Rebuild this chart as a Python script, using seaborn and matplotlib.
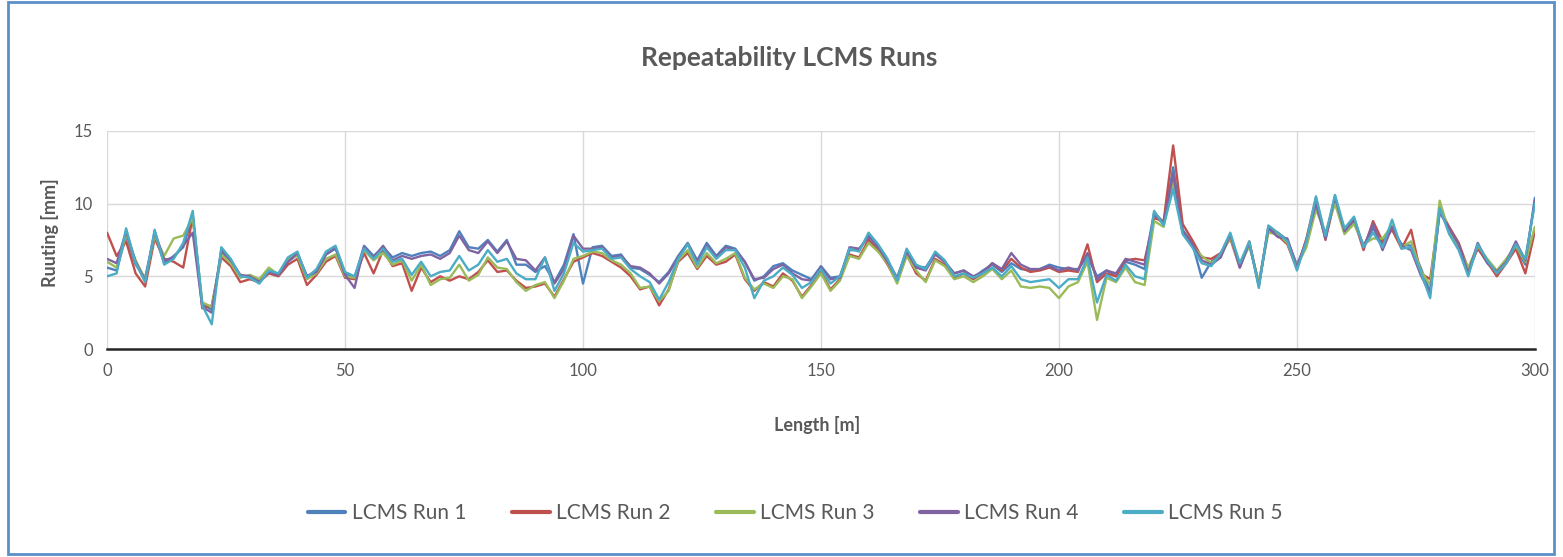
import numpy as np
import pandas as pd
import matplotlib
matplotlib.use("Agg")
import matplotlib.pyplot as plt
import seaborn as sns
from matplotlib.patches import Rectangle
from matplotlib.ticker import MultipleLocator

# chainage every 2 m along the 300 m section
length_m = np.arange(0, 301, 2)

run1 = [5.6, 5.4, 7.8, 5.8, 4.9, 7.9, 5.9, 6.4, 7.0, 9.2,
        3.1, 2.7, 6.7, 6.0, 5.0, 5.0, 4.7, 5.3, 5.2, 6.0,
        6.5, 5.0, 5.4, 6.5, 6.9, 5.2, 4.9, 7.1, 6.4, 7.0,
        6.3, 6.6, 6.4, 6.6, 6.7, 6.4, 6.8, 8.1, 7.0, 6.9,
        7.5, 6.7, 7.5, 5.8, 5.8, 5.3, 5.7, 4.6, 5.8, 7.9,
        4.5, 7.0, 7.1, 6.4, 6.5, 5.6, 5.5, 5.1, 4.6, 5.3,
        6.4, 7.3, 6.1, 7.3, 6.4, 7.1, 6.9, 6.0, 4.7, 5.0,
        5.7, 5.9, 5.4, 5.1, 4.8, 5.7, 4.9, 5.0, 6.8, 6.8,
        7.8, 7.1, 6.1, 4.9, 6.8, 5.7, 5.6, 6.6, 6.0, 5.2,
        5.4, 4.9, 5.4, 5.8, 5.3, 5.9, 5.5, 5.4, 5.5, 5.8,
        5.6, 5.5, 5.5, 6.4, 5.0, 5.4, 5.0, 6.0, 5.8, 5.5,
        9.2, 8.6, 12.5, 8.2, 7.3, 4.9, 6.0, 6.5, 7.8, 5.8,
        7.2, 4.5, 8.2, 8.0, 7.5, 5.8, 7.3, 10.2, 7.7, 10.4,
        8.0, 8.7, 7.1, 8.3, 7.2, 8.3, 7.2, 7.1, 5.6, 3.9,
        9.5, 8.2, 7.1, 5.2, 7.0, 5.9, 5.2, 6.1, 7.0, 5.8, 10.4]

run2 = [8.0, 6.4, 7.4, 5.2, 4.3, 7.6, 6.2, 6.0, 5.6, 9.1,
        2.8, 3.0, 6.3, 5.7, 4.6, 4.8, 4.6, 5.2, 5.0, 5.8,
        6.2, 4.4, 5.1, 6.0, 6.4, 4.9, 4.8, 6.6, 5.2, 6.8,
        5.7, 5.9, 4.0, 5.6, 4.6, 5.0, 4.7, 5.0, 4.8, 5.3,
        6.1, 5.3, 5.4, 4.7, 4.2, 4.3, 4.5, 3.6, 4.8, 6.0,
        6.3, 6.6, 6.4, 6.0, 5.6, 5.0, 4.1, 4.3, 3.0, 4.1,
        6.0, 6.6, 5.5, 6.4, 5.8, 6.0, 6.5, 4.8, 4.0, 4.6,
        4.3, 5.2, 4.7, 3.6, 4.4, 5.3, 4.1, 4.8, 6.5, 6.3,
        7.5, 6.8, 5.8, 4.6, 6.5, 5.2, 4.7, 6.2, 5.8, 4.9,
        5.2, 4.8, 5.2, 5.9, 5.4, 6.2, 5.6, 5.3, 5.4, 5.6,
        5.3, 5.4, 5.3, 7.2, 4.6, 5.2, 5.0, 6.1, 6.2, 6.1,
        9.0, 8.8, 14.0, 8.6, 7.5, 6.3, 6.2, 6.6, 7.6, 5.6,
        7.4, 4.4, 8.4, 7.8, 7.2, 5.5, 7.6, 10.4, 7.5, 10.3,
        8.2, 8.9, 6.8, 8.8, 7.4, 8.2, 6.9, 8.2, 5.2, 4.8,
        9.6, 8.4, 7.3, 5.5, 6.9, 6.0, 5.0, 5.9, 6.9, 5.2, 8.1]

run3 = [6.0, 5.6, 7.9, 6.1, 4.8, 7.8, 6.4, 7.6, 7.8, 9.0,
        3.2, 2.9, 6.5, 5.9, 4.9, 5.1, 4.8, 5.6, 5.1, 6.2,
        6.4, 4.8, 5.2, 6.2, 6.5, 5.0, 4.9, 6.8, 6.1, 6.6,
        5.8, 6.1, 4.7, 5.8, 4.4, 4.8, 4.9, 5.8, 4.7, 5.1,
        6.3, 5.6, 5.5, 4.6, 4.0, 4.4, 4.6, 3.5, 4.7, 6.2,
        6.4, 6.7, 6.6, 6.1, 5.8, 5.2, 4.2, 4.3, 3.3, 4.0,
        6.1, 6.8, 5.6, 6.6, 5.9, 6.2, 6.6, 4.9, 4.1, 4.5,
        4.2, 5.0, 4.8, 3.5, 4.3, 5.2, 4.0, 4.7, 6.4, 6.2,
        7.3, 6.7, 5.9, 4.5, 6.4, 5.4, 4.6, 6.1, 5.7, 4.8,
        5.0, 4.6, 5.0, 5.5, 4.8, 5.4, 4.3, 4.2, 4.3, 4.2,
        3.5, 4.3, 4.6, 6.0, 2.0, 4.9, 4.6, 5.6, 4.6, 4.4,
        8.8, 8.4, 11.5, 8.0, 7.1, 6.4, 5.9, 6.4, 7.7, 5.7,
        7.1, 4.6, 8.0, 7.9, 7.3, 5.7, 7.0, 9.6, 8.0, 10.0,
        7.9, 8.6, 7.2, 7.6, 7.6, 8.5, 7.0, 7.4, 5.4, 4.4,
        10.2, 8.0, 6.9, 5.6, 7.1, 6.2, 5.4, 6.2, 7.1, 6.0, 8.4]

run4 = [6.2, 5.9, 8.1, 6.0, 4.7, 8.1, 6.1, 6.3, 7.1, 8.0,
        2.9, 2.5, 6.8, 6.1, 5.1, 5.0, 4.6, 5.3, 5.1, 6.0,
        6.6, 5.0, 5.3, 6.5, 7.0, 5.1, 4.2, 7.0, 6.3, 7.1,
        6.1, 6.4, 6.2, 6.4, 6.5, 6.2, 6.6, 7.8, 6.8, 6.6,
        7.4, 6.6, 7.4, 6.2, 6.1, 5.4, 6.3, 4.5, 5.5, 7.8,
        6.9, 6.9, 7.0, 6.3, 6.4, 5.7, 5.6, 5.2, 4.5, 5.2,
        6.3, 7.2, 6.0, 7.1, 6.3, 7.0, 6.8, 6.0, 4.8, 4.9,
        5.5, 5.8, 5.2, 4.8, 4.7, 5.6, 4.8, 4.9, 7.0, 6.9,
        7.7, 7.0, 6.0, 4.8, 6.7, 5.6, 5.4, 6.5, 6.0, 5.2,
        5.4, 5.0, 5.3, 5.9, 5.5, 6.6, 5.8, 5.5, 5.5, 5.7,
        5.4, 5.6, 5.4, 6.6, 4.8, 5.4, 5.2, 6.2, 6.0, 5.8,
        9.4, 8.7, 12.0, 8.1, 7.2, 6.1, 5.8, 6.3, 7.9, 5.6,
        7.3, 4.3, 8.3, 7.7, 7.6, 5.6, 7.5, 10.0, 7.6, 10.5,
        8.1, 9.0, 7.0, 8.6, 6.8, 8.4, 7.1, 6.8, 5.1, 3.8,
        9.4, 8.3, 7.2, 5.2, 7.3, 6.0, 5.3, 6.0, 7.4, 6.1, 10.2]

run5 = [5.0, 5.2, 8.3, 5.9, 4.6, 8.2, 5.8, 6.2, 7.3, 9.5,
        3.0, 1.7, 7.0, 6.2, 5.0, 4.9, 4.5, 5.4, 5.2, 6.3,
        6.7, 4.9, 5.5, 6.7, 7.1, 5.3, 5.0, 6.9, 6.2, 6.9,
        6.0, 6.2, 5.1, 6.0, 5.0, 5.3, 5.4, 6.4, 5.4, 5.8,
        6.8, 6.0, 6.2, 5.2, 4.8, 4.8, 6.3, 4.0, 5.2, 7.3,
        6.7, 6.8, 6.9, 6.2, 6.3, 5.5, 5.0, 4.6, 3.4, 4.6,
        6.2, 7.2, 5.8, 7.0, 6.2, 6.8, 6.8, 5.6, 3.5, 4.7,
        5.0, 5.6, 5.1, 4.2, 4.6, 5.5, 4.5, 5.0, 6.9, 6.7,
        8.0, 7.2, 6.2, 4.7, 6.9, 5.8, 5.5, 6.7, 6.1, 5.0,
        5.2, 4.9, 5.2, 5.6, 5.0, 5.7, 4.8, 4.6, 4.7, 4.8,
        4.2, 4.8, 4.8, 6.3, 3.2, 5.1, 4.7, 5.8, 5.0, 4.8,
        9.5, 8.5, 11.0, 7.9, 7.0, 5.9, 5.7, 6.6, 8.0, 5.9,
        7.4, 4.2, 8.5, 8.0, 7.4, 5.4, 7.4, 10.5, 7.8, 10.6,
        8.3, 9.1, 7.0, 8.0, 7.0, 8.9, 6.9, 7.0, 5.3, 3.5,
        9.7, 7.9, 6.8, 5.0, 7.2, 6.1, 5.2, 5.9, 7.2, 6.2, 10.0]

run_names = ["LCMS Run 1", "LCMS Run 2", "LCMS Run 3", "LCMS Run 4", "LCMS Run 5"]
run_colors = ["#4F81BD", "#C0504D", "#9BBB59", "#8064A2", "#4BACC6"]

df = pd.DataFrame({"Length": length_m, run_names[0]: run1, run_names[1]: run2,
                   run_names[2]: run3, run_names[3]: run4, run_names[4]: run5})
long_df = df.melt(id_vars="Length", var_name="Run", value_name="Rutting")

sns.set_style("white")
plt.rcParams["font.family"] = ["Lato", "DejaVu Sans"]
text_grey = "#595959"

fig = plt.figure(figsize=(15.63, 5.57), dpi=100)
ax = fig.add_axes([0.0685, 0.3734, 0.9135, 0.3916])

sns.lineplot(data=long_df, x="Length", y="Rutting", hue="Run", hue_order=run_names,
             palette=run_colors, linewidth=1.7, ax=ax)

ax.set_xlim(0, 300)
ax.set_ylim(0, 15)
ax.xaxis.set_major_locator(MultipleLocator(50))
ax.xaxis.set_minor_locator(MultipleLocator(10))
ax.yaxis.set_major_locator(MultipleLocator(5))
ax.grid(True, which="major", color="#D9D9D9", linewidth=1.0)
ax.set_axisbelow(True)

for side in ["top", "right", "left"]:
    ax.spines[side].set_visible(False)
ax.spines["bottom"].set_color("#262626")
ax.spines["bottom"].set_linewidth(1.8)

ax.tick_params(axis="x", which="both", direction="out", length=6, width=1.2,
               color="#262626", labelsize=12, labelcolor=text_grey, pad=4)
ax.tick_params(axis="y", which="major", direction="out", length=4, width=1,
               color="#BFBFBF", labelsize=12, labelcolor=text_grey, pad=6)

ax.set_xlabel("")
ax.set_ylabel("")
fig.text(0.523, 0.237, "Length [m]", ha="center", va="center",
         fontsize=13, fontweight="bold", color=text_grey)
fig.text(0.032, 0.583, "Ruuting [mm]", ha="center", va="center", rotation=90,
         fontsize=13, fontweight="bold", color=text_grey)
fig.text(0.505, 0.896, "Repeatability LCMS Runs", ha="center", va="center",
         fontsize=19, fontweight="bold", color=text_grey)

sns.move_legend(ax, "center", bbox_to_anchor=(0.482, -0.752), ncol=5, frameon=False,
                title=None, fontsize=15, handlelength=1.8, columnspacing=2.2,
                handletextpad=0.3)
for txt in ax.get_legend().get_texts():
    txt.set_color(text_grey)
for line in ax.get_legend().get_lines():
    line.set_linewidth(3)

fig.patches.append(Rectangle((0.005, 0.006), 0.989, 0.99, transform=fig.transFigure,
                             fill=False, edgecolor="#5B8FC9", linewidth=2))

fig.savefig("out.png", dpi=100)
